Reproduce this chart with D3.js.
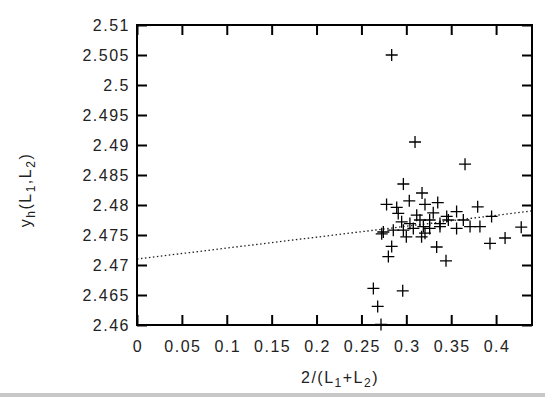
<html>
<head>
  <style>
    body {
      padding: 0px;
      margin: 0px;
      background-color: white;
    }
    svg {
      display: block;
    }
    .lbl {
      font-family: "Liberation Sans", Arial, sans-serif;
      font-size: 16px;
      letter-spacing: 1.5px;
      fill: #222;
    }
  </style>
</head>
<body>
  <div id="chart"></div>
  <script src="https://cdnjs.cloudflare.com/ajax/libs/d3/7.8.5/d3.min.js"></script>
  <script>
    // measured points
    var xVals = [0.2837, 0.3097, 0.3654, 0.2967, 0.3175, 0.2780, 0.3033, 0.2893, 0.3208, 0.3350,
      0.3795, 0.2910, 0.3116, 0.3300, 0.3450, 0.3560, 0.3950, 0.2948, 0.3040, 0.3152,
      0.3260, 0.3375, 0.3468, 0.3635, 0.3710, 0.3820, 0.2744, 0.2855, 0.2967, 0.3078,
      0.3190, 0.3260, 0.3375, 0.3560, 0.3000, 0.3208, 0.3170, 0.4280, 0.2726, 0.3932,
      0.4100, 0.3338, 0.2837, 0.2800, 0.3442, 0.2633, 0.2960, 0.2681, 0.2718];
    var yVals = [2.5050, 2.4905, 2.4868, 2.4835, 2.4820, 2.4801, 2.4807, 2.4796, 2.4801, 2.4804,
      2.4797, 2.4786, 2.4783, 2.4787, 2.4781, 2.4789, 2.4781, 2.4772, 2.4769, 2.4775,
      2.4775, 2.4769, 2.4775, 2.4775, 2.4764, 2.4764, 2.4755, 2.4758, 2.4758, 2.4761,
      2.4764, 2.4761, 2.4764, 2.4761, 2.4747, 2.4753, 2.4747, 2.4763, 2.4752, 2.4736,
      2.4745, 2.4730, 2.4731, 2.4714, 2.4707, 2.4661, 2.4657, 2.4631, 2.4601];
    // linear fit y = a + b*x
    var fitIntercept = 2.4710;
    var fitSlope = 0.0182;
    var xTicks = [0, 0.05, 0.1, 0.15, 0.2, 0.25, 0.3, 0.35, 0.4];
    var yTicks = [2.46, 2.465, 2.47, 2.475, 2.48, 2.485, 2.49, 2.495, 2.5, 2.505, 2.51];

    var W = 545, H = 397;
    var padL = 137, padR = 532, padT = 25, padB = 325;

    var svg = d3.select('#chart').append('svg')
      .attr('width', W)
      .attr('height', H);

    var x = d3.scaleLinear().domain([0, 0.44]).range([padL, padR]);
    var y = d3.scaleLinear().domain([2.46, 2.51]).range([padB, padT]);

    svg.append('clipPath').attr('id', 'clip')
      .append('rect')
      .attr('x', padL).attr('y', padT)
      .attr('width', padR - padL).attr('height', padB - padT);

    // fit line
    var fx = x.domain();
    svg.append('line')
      .attr('clip-path', 'url(#clip)')
      .attr('x1', x(fx[0])).attr('y1', y(fitIntercept + fitSlope * fx[0]))
      .attr('x2', x(fx[1])).attr('y2', y(fitIntercept + fitSlope * fx[1]))
      .attr('stroke', '#222')
      .attr('stroke-width', 1.3)
      .attr('stroke-dasharray', '1.5,2.5');

    // points as + markers
    var pts = xVals.map(function(d, i) { return { x: d, y: yVals[i] }; });
    var m = 6;
    var marks = svg.selectAll('g.pt')
      .data(pts)
      .enter()
      .append('g')
      .attr('class', 'pt')
      .attr('transform', function(d) { return 'translate(' + x(d.x) + ',' + y(d.y) + ')'; });
    marks.append('path')
      .attr('d', 'M' + (-m) + ',0H' + m + 'M0,' + (-m) + 'V' + m)
      .attr('stroke', 'black')
      .attr('stroke-width', 1.3)
      .attr('fill', 'none');

    // axes, ticks on all sides
    var tl = 10;
    svg.append('g')
      .attr('transform', 'translate(0,' + padB + ')')
      .call(d3.axisTop(x).tickValues(xTicks).tickSize(tl).tickFormat(''))
      .call(function(g) { g.select('.domain').remove(); });
    svg.append('g')
      .attr('transform', 'translate(0,' + padT + ')')
      .call(d3.axisBottom(x).tickValues(xTicks).tickSize(tl).tickFormat(''))
      .call(function(g) { g.select('.domain').remove(); });
    svg.append('g')
      .attr('transform', 'translate(' + padL + ',0)')
      .call(d3.axisRight(y).tickValues(yTicks).tickSize(tl).tickFormat(''))
      .call(function(g) { g.select('.domain').remove(); });
    svg.append('g')
      .attr('transform', 'translate(' + padR + ',0)')
      .call(d3.axisLeft(y).tickValues(yTicks).tickSize(tl).tickFormat(''))
      .call(function(g) { g.select('.domain').remove(); });
    svg.selectAll('.tick line').attr('stroke', 'black').attr('stroke-width', 2);

    svg.append('rect')
      .attr('x', padL).attr('y', padT)
      .attr('width', padR - padL).attr('height', padB - padT)
      .attr('fill', 'none')
      .attr('stroke', 'black')
      .attr('stroke-width', 2);

    // tick labels
    svg.selectAll('text.xt')
      .data(xTicks)
      .enter()
      .append('text')
      .attr('class', 'lbl xt')
      .attr('x', function(d) { return x(d) + 1; })
      .attr('y', 352)
      .attr('text-anchor', 'middle')
      .text(function(d) { return d3.format('~g')(d); });

    svg.selectAll('text.yt')
      .data(yTicks)
      .enter()
      .append('text')
      .attr('class', 'lbl yt')
      .attr('x', 130)
      .attr('y', function(d) { return y(d) + 6; })
      .attr('text-anchor', 'end')
      .text(function(d) { return d3.format('~g')(d); });

    // axis titles
    var xl = svg.append('text')
      .attr('class', 'lbl')
      .attr('x', 340)
      .attr('y', 383)
      .attr('text-anchor', 'middle');
    xl.append('tspan').text('2/(L');
    xl.append('tspan').attr('dy', 4).style('font-size', '12px').text('1');
    xl.append('tspan').attr('dy', -4).text('+L');
    xl.append('tspan').attr('dy', 4).style('font-size', '12px').text('2');
    xl.append('tspan').attr('dy', -4).text(')');

    var yl = svg.append('text')
      .attr('class', 'lbl')
      .attr('transform', 'translate(31,190) rotate(-90)')
      .attr('text-anchor', 'middle');
    yl.append('tspan').text('y');
    yl.append('tspan').attr('dy', 4).style('font-size', '12px').text('h');
    yl.append('tspan').attr('dy', -4).text('(L');
    yl.append('tspan').attr('dy', 4).style('font-size', '12px').text('1');
    yl.append('tspan').attr('dy', -4).text(',L');
    yl.append('tspan').attr('dy', 4).style('font-size', '12px').text('2');
    yl.append('tspan').attr('dy', -4).text(')');

    // gray strip along bottom edge
    svg.append('rect')
      .attr('x', 0).attr('y', 393)
      .attr('width', W).attr('height', 4)
      .attr('fill', '#c8c8c8');
  </script>
</body>
</html>
